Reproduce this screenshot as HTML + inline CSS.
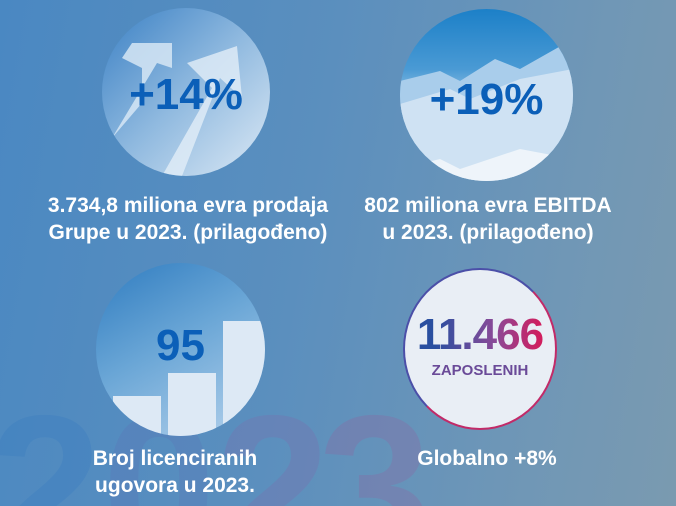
<!DOCTYPE html>
<html><head><meta charset="utf-8"><style>
html,body{margin:0;padding:0;width:676px;height:506px;overflow:hidden}
body{position:relative;
background:linear-gradient(100deg,#4a88c2 0%,#5b8fbe 45%,#7097b6 80%,#7a9ab0 100%);
font-family:"Liberation Sans Narrow","Liberation Sans",sans-serif;}
.big{position:absolute;top:385px;height:121px;overflow:hidden;font-family:"Liberation Sans",sans-serif;font-weight:bold;font-size:205px;line-height:1;opacity:.35}
.c{position:absolute;border-radius:50%;overflow:hidden}
.lbl{position:absolute;color:#fff;font-weight:bold;font-size:21px;line-height:27px;text-align:center;width:340px}
.num{position:absolute;font-family:"Liberation Sans",sans-serif;font-weight:bold;color:#0b5fb8;text-align:center;width:100%}
</style></head><body>
<div class="big" style="left:-12px;color:#3a7cc0">2</div>
<div class="big" style="left:102px;color:#5a78b8">0</div>
<div class="big" style="left:216px;color:#7a70ae">2</div>
<div class="big" style="left:318px;color:#8a6aa4">3</div>

<div class="c" style="left:102px;top:8px;width:168px;height:168px;background:linear-gradient(135deg,#3a80c4 0%,#8fb9df 50%,#dce9f5 100%)">
<svg width="168" height="168" style="position:absolute;left:0;top:0">
<polygon points="40,95 40,60 20,50 30,35 70,35 70,60 55,55 10,130" fill="#d6e6f4" opacity=".85"/>
<polygon points="60,168 110,80 85,55 135,38 140,90 118,70 80,168" fill="#e2edf7" opacity=".8"/>
</svg>
<div class="num" style="top:62px;font-size:44px">+14%</div>
</div>

<div class="c" style="left:400px;top:9px;width:173px;height:172px;background:linear-gradient(180deg,#1c80c8 0%,#4a9ad4 35%,#b8d6ee 60%,#e0ecf7 100%)">
<svg width="173" height="172" style="position:absolute;left:0;top:0">
<polygon points="0,72 40,62 60,72 95,50 120,60 173,30 173,172 0,172" fill="#a9cdeb"/>
<polygon points="0,95 50,80 70,90 120,70 173,60 173,172 0,172" fill="#cfe2f3"/>
<polygon points="0,160 40,150 60,160 120,140 173,150 173,172 0,172" fill="#eef4fa"/>
</svg>
<div class="num" style="top:66px;font-size:44px">+19%</div>
</div>

<div class="c" style="left:96px;top:263px;width:169px;height:173px;background:linear-gradient(150deg,#2f7cc0 0%,#6aa6d6 45%,#b5d2ec 100%)">
<div style="position:absolute;left:17px;top:133px;width:48px;height:50px;background:#dde9f5"></div>
<div style="position:absolute;left:72px;top:110px;width:48px;height:70px;background:#dde9f5"></div>
<div style="position:absolute;left:127px;top:58px;width:48px;height:120px;background:#dde9f5"></div>
<div class="num" style="top:58px;font-size:44px;color:#0b5fb8">95</div>
</div>

<div class="c" style="left:403px;top:268px;width:150px;height:158px;background:#e9eef5;border:2px solid;border-color:#4b4fa8 #c22a68 #c22a68 #4b4fa8">
<div class="num" style="top:40px;font-size:44px;background:linear-gradient(90deg,#2a4fa0 20%,#8a4a98 60%,#d01e5e 90%);-webkit-background-clip:text;color:transparent;letter-spacing:-1px">11.466</div>
<div class="num" style="top:92px;font-size:15px;color:#6a4a98;font-family:'Liberation Sans Narrow','Liberation Sans',sans-serif">ZAPOSLENIH</div>
</div>

<div class="lbl" style="left:18px;top:192px">3.734,8 miliona evra prodaja<br>Grupe u 2023. (prilagođeno)</div>
<div class="lbl" style="left:318px;top:192px">802 miliona evra EBITDA<br>u 2023. (prilagođeno)</div>
<div class="lbl" style="left:5px;top:445px">Broj licenciranih<br>ugovora u 2023.</div>
<div class="lbl" style="left:317px;top:445px">Globalno +8%</div>
</body></html>
